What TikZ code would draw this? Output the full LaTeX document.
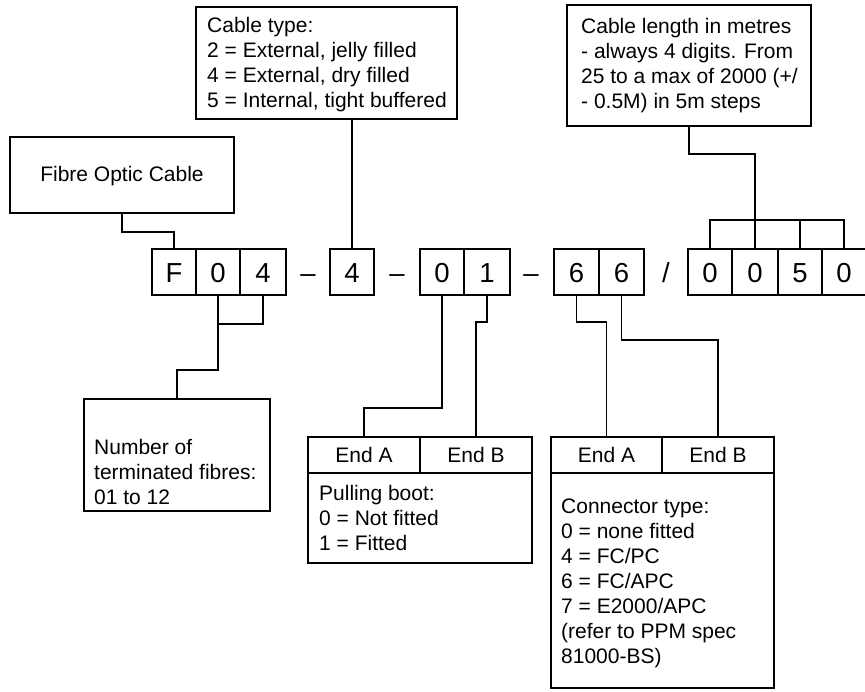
\documentclass[tikz,border=0pt]{standalone}
\usepackage{fontspec}
\setmainfont{Liberation Sans}
\usetikzlibrary{fit}
\newcommand\cellbox[3]{\node[box, fit={#2 #3}] (#1) {};}
\begin{document}
\begin{tikzpicture}[x=1pt,y=-1pt,
  box/.style={draw, line width=1.8pt, inner sep=0pt, rectangle},
  txt/.style={inner sep=0pt, align=left, anchor=north west, font=\fontsize{21}{25}\selectfont},
  lab/.style={inner sep=0pt, anchor=base, font=\fontsize{21}{25}\selectfont},
  dig/.style={inner sep=0pt, anchor=base, font=\fontsize{27.5}{30}\selectfont},
  wire/.style={line width=1.8pt}]
\fill[white] (0,0) rectangle (865,691);
\useasboundingbox (0,0) rectangle (865,691);
\clip (0,0) rectangle (865,691);

% top boxes
\cellbox{fo}{(10,137)}{(234,213)}
\node[lab] (tfo) at (122,181) {Fibre Optic Cable};
\cellbox{ct}{(196,7)}{(457,119)}
\node[txt] (tct) at (207,17) {Cable type:\\2 = External, jelly filled\\4 = External, dry filled\\5 = Internal, tight buffered};
\cellbox{cl}{(567,5)}{(811,126)}
\node[txt] (tcl) at (581,18) {Cable length in metres\\- always 4 digits. From\\25 to a max of 2000 (+/\\- 0.5M) in 5m steps};

% code row
\cellbox{cF}{(152,249)}{(196,295)}
\cellbox{n0}{(196,249)}{(240,295)}
\cellbox{n4}{(240,249)}{(286,295)}
\cellbox{c4}{(330,249)}{(374,295)}
\cellbox{d0}{(420,249)}{(464,295)}
\cellbox{d1}{(464,249)}{(510,295)}
\cellbox{sa}{(554,249)}{(599,295)}
\cellbox{sb}{(599,249)}{(644,295)}
\cellbox{L1}{(688,249)}{(732,295)}
\cellbox{L2}{(732,249)}{(778,295)}
\cellbox{L3}{(778,249)}{(822,295)}
\cellbox{L4}{(822,249)}{(866,295)}

\node[dig] (gF) at (174,282) {F};
\node[dig] (g0) at (218,282) {0};
\node[dig] (g4) at (263,282) {4};
\node[dig] (m1) at (308,282) {–};
\node[dig] (g5) at (352,282) {4};
\node[dig] (m2) at (397,282) {–};
\node[dig] (g6) at (442,282) {0};
\node[dig] (g7) at (487,282) {1};
\node[dig] (m3) at (531,282) {–};
\node[dig] (g8) at (576.5,282) {6};
\node[dig] (g9) at (621.5,282) {6};
\node[dig] (sl) at (666,282) {/};
\node[dig] (h1) at (710,282) {0};
\node[dig] (h2) at (755,282) {0};
\node[dig] (h3) at (800,282) {5};
\node[dig] (h4) at (844,282) {0};

% bottom boxes
\cellbox{nb}{(84,399)}{(270,511)}
\node[txt] (tnb) at (94,439) {Number of\\terminated fibres:\\01 to 12};

\cellbox{pa}{(308,437)}{(420,473)}
\cellbox{pb}{(420,437)}{(532,473)}
\cellbox{pc}{(308,473)}{(532,563)}
\node[lab] (tpa) at (364,462) {End A};
\node[lab] (tpb) at (476,462) {End B};
\node[txt] (tpc) at (319,485) {Pulling boot:\\0 = Not fitted\\1 = Fitted};

\cellbox{ka}{(551,437)}{(662,473)}
\cellbox{kb}{(662,437)}{(774,473)}
\cellbox{kc}{(551,473)}{(774,688)}
\node[lab] (tka) at (606.5,462) {End A};
\node[lab] (tkb) at (718,462) {End B};
\node[txt] (tkc) at (561,499) {Connector type:\\0 = none fitted\\4 = FC/PC\\6 = FC/APC\\7 = E2000/APC\\(refer to PPM spec\\81000-BS)};

% connectors
\draw[wire] (fo.south) -- ++(0,18) -| (cF.north);
\draw[wire] (c4.north) -- (c4.north |- ct.south);
\draw[wire] (L1.north) -- ++(0,-28) -| (L4.north);
\draw[wire] (L3.north) -- ++(0,-28);
\draw[wire] (cl.south) -- ++(0,27) -| (L2.north);
\draw[wire] (n0.south) -- ++(0,28) -| (n4.south);
\draw[wire] (nb.north) -- ++(0,-28) -| (n0.south);
\draw[wire] (pa.north) -- ++(0,-28) -| (d0.south);
\draw[wire] (pb.north) -- ++(0,-114) -| (d1.south);
\draw[wire] (ka.north) -- ++(0,-114) -| (sa.south);
\draw[wire] (kb.north) -- ++(0,-96) -| (sb.south);
\end{tikzpicture}
\end{document}
